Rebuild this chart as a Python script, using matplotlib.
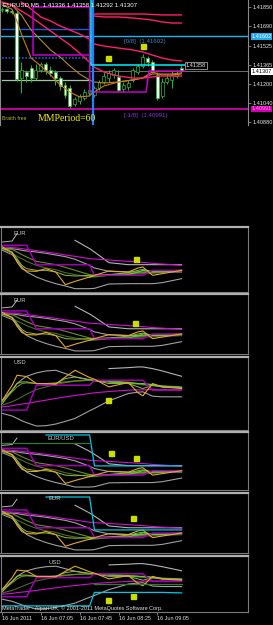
import numpy as np
import matplotlib.pyplot as plt

plt.rcParams['font.family'] = ['Liberation Sans', 'DejaVu Sans']

nan = np.nan
W, H = 273, 625

# ---------------- main window: EURUSD,M5 ----------------
bar_open = [1.41825, 1.41833, 1.41816, 1.41799, 1.41251, 1.41302, 1.41336, 1.41251, 1.41319, 1.41369,
            1.41319, 1.41302, 1.41251, 1.41192, 1.41167, 1.41032, 1.41058, 1.41083, 1.41125, 1.41108,
            1.41167, 1.41218, 1.41251, 1.41277, 1.41260, 1.41159, 1.41176, 1.41235, 1.41302, 1.41353,
            1.41420, 1.41386, 1.41277, 1.41100, 1.41218, 1.41235, 1.41268, 1.41336]
bar_high = [1.41850, 1.41842, 1.41833, 1.41825, 1.41386, 1.41319, 1.41361, 1.41369, 1.41386, 1.41386,
            1.41353, 1.41319, 1.41268, 1.41218, 1.41192, 1.41091, 1.41117, 1.41159, 1.41184, 1.41184,
            1.41235, 1.41302, 1.41319, 1.41336, 1.41319, 1.41218, 1.41235, 1.41336, 1.41369, 1.41454,
            1.41437, 1.41403, 1.41302, 1.41251, 1.41285, 1.41319, 1.41319, 1.41358]
bar_low = [1.41808, 1.41799, 1.41791, 1.41226, 1.41125, 1.41218, 1.41218, 1.41235, 1.41302, 1.41285,
           1.41268, 1.41192, 1.41150, 1.41083, 1.40999, 1.41015, 1.41032, 1.41066, 1.41100, 1.41091,
           1.41150, 1.41201, 1.41218, 1.41251, 1.41133, 1.41133, 1.41150, 1.41218, 1.41285, 1.41336,
           1.41353, 1.41294, 1.41066, 1.41083, 1.41201, 1.41167, 1.41251, 1.41292]
bar_close = [1.41833, 1.41816, 1.41808, 1.41243, 1.41319, 1.41268, 1.41251, 1.41319, 1.41369, 1.41319,
             1.41294, 1.41251, 1.41184, 1.41108, 1.41015, 1.41074, 1.41100, 1.41133, 1.41150, 1.41167,
             1.41218, 1.41268, 1.41294, 1.41319, 1.41150, 1.41192, 1.41209, 1.41319, 1.41353, 1.41428,
             1.41386, 1.41310, 1.41083, 1.41218, 1.41251, 1.41277, 1.41294, 1.41307]

m_nodes = [0, 2, 3, 4, 6, 8, 10, 12, 14, 16, 18, 19, 21, 24, 27, 29, 31, 33, 35, 37]
ma_fast = [1.41867, 1.41833, 1.41740, 1.41622, 1.41420, 1.41353, 1.41277, 1.41192, 1.41133, 1.41091,
           1.41100, 1.41133, 1.41184, 1.41218, 1.41235, 1.41251, 1.41302, 1.41277, 1.41277, 1.41285]
ma_slow = [1.41884, 1.41867, 1.41825, 1.41783, 1.41656, 1.41572, 1.41488, 1.41428, 1.41353, 1.41285,
           1.41235, 1.41218, 1.41209, 1.41218, 1.41235, 1.41251, 1.41285, 1.41285, 1.41285, 1.41294]
env_low = [1.41892, 1.41867, 1.41842, 1.41816, 1.41766, 1.41707, 1.41648, 1.41589, 1.41530, 1.41462,
           1.41386, 1.41344, 1.41302, 1.41268, 1.41251, 1.41251, 1.41260, 1.41268, 1.41268, 1.41268]
env_mid = [nan, nan, nan, 1.41892, 1.41833, 1.41766, 1.41732, 1.41690, 1.41656, 1.41622,
           1.41580, 1.41538, 1.41521, 1.41504, 1.41488, 1.41471, 1.41445, 1.41420, 1.41403, 1.41395]
top_nodes = [19, 21, 24, 27, 29, 31, 33, 35, 37]
env_top1 = [1.41791, 1.41791, 1.41791, 1.41791, 1.41791, 1.41787, 1.41783, 1.41783, 1.41783]
env_top2 = [1.41774, 1.41766, 1.41766, 1.41757, 1.41749, 1.41740, 1.41724, 1.41715, 1.41715]

range_x = [6.4, 6.4, 18.1, 18.1, 29.7, 30.3, 37.7]
range_y = [1.41445, 1.41850, 1.41850, 1.41133, 1.41133, 1.41310, 1.41310]
range_mid = 1.41445
hour_break = 18.5
prev_high = 1.41664
prev_pivot = 1.41420
prev_low = 1.41235
mm_zero = 1.41602
mm_minus1 = 1.40991
last_price = 1.41307
break_level = 1.41358
signal_x = [21.9, 29.1]
signal_y = [1.41420, 1.41521]
price_ticks = [1.41850, 1.41690, 1.41525, 1.41365, 1.41200, 1.41040, 1.40880]

time_ticks = [0, 8, 16, 24, 32]
time_labels = ['16 Jun 2011', '16 Jun 07:05', '16 Jun 07:45', '16 Jun 08:25', '16 Jun 09:05']

# ---------------- currency strength windows ----------------
s_nodes = [0, 2, 3, 4, 5, 7, 9, 11, 13, 15, 18, 19, 22, 26, 28, 29, 31, 33, 37]
eur = {
    'step':   [140, 140, 140, 140, 140, 82, 82, 82, 82, 82, 82, 50, 50, 50, 50, 50, 65, 65, 65],
    'slant':  [135, 133, 132, 130, 128, 124, 120, 116, 111, 107, 100, 99, 96, 92, 90, 89, 86, 84, 80],
    'arc':    [nan, nan, nan, nan, nan, nan, nan, nan, nan, 155, 130, 120, 88, 82, 82, 82, 82, 82, 82],
    'gmid':   [130, 130, 128, 125, 123, 120, 116, 111, 106, 98, 80, 72, 62, 60, 60, 60, 60, 60, 60],
    'glow':   [125, 112, 95, 75, 60, 45, 34, 25, 18, 10, 10, 11, 24, 25, 25, 25, 25, 28, 40],
    'gtop':   [150, 153, 175, nan, nan, nan, nan, nan, nan, nan, nan, nan, nan, nan, nan, nan, nan, nan, nan],
    'olive1': [130, 128, 120, 112, 105, 92, 87, 82, 74, 65, 52, 50, 52, 55, 57, 58, 60, 62, 65],
    'olive2': [128, 115, 107, 100, 92, 80, 72, 67, 58, 52, 45, 45, 50, 52, 54, 55, 56, 58, 60],
    'ygreen': [130, 120, 100, 80, 70, 65, 65, 60, 50, 48, 50, 50, 52, 58, 65, 68, 60, 60, 65],
    'green':  [nan, nan, nan, nan, nan, nan, nan, nan, nan, nan, 45, 48, 50, 52, 60, 65, 62, 62, 65],
    'orange': [135, 118, 90, 70, 63, 62, 70, 60, 22, 32, 45, 50, 63, 60, 72, 75, 50, 55, 65],
}
usd = {
    'step':   [60, 60, 60, 60, 60, 135, 135, 135, 135, 135, 135, 150, 150, 150, 150, 150, 120, 120, 120],
    'slant':  [70, 73, 76, 78, 80, 85, 90, 95, 100, 104, 110, 112, 116, 120, 121, 121, 122, 122, 122],
    'arc':    [nan, nan, nan, nan, nan, nan, nan, nan, nan, nan, nan, nan, 185, 188, 190, 190, 185, 178, 162],
    'gmid':   [90, 120, 140, 152, 162, 172, 178, 180, 170, 160, 150, 148, 145, 140, 140, 138, 135, 130, 128],
    'glow':   [50, 42, 35, 28, 22, 12, 13, 18, 26, 35, 58, 65, 88, 110, 114, 115, 102, 100, 100],
    'gtop':   [nan] * 19,
    'olive1': [85, 115, 130, 140, 142, 140, 140, 142, 145, 148, 150, 150, 148, 144, 140, 138, 135, 133, 130],
    'olive2': [75, 85, 92, 100, 108, 122, 130, 137, 143, 147, 150, 150, 147, 142, 138, 136, 133, 131, 128],
    'ygreen': [80, 120, 140, 145, 145, 140, 138, 140, 155, 160, 152, 150, 140, 140, 130, 125, 135, 130, 128],
    'green':  [nan, nan, nan, nan, nan, nan, nan, nan, nan, nan, nan, nan, 145, 142, 140, 140, 137, 132, 128],
    'orange': [90, 135, 165, 163, 161, 140, 140, 138, 160, 180, 158, 153, 130, 143, 112, 103, 140, 130, 125],
}
eur_range = 195
usd_range = 220

cyan_p4 = [nan, nan, nan, nan, nan, nan, 185, 185, 185, 185, 185, 81, 81, 81, 81, 81, 81, 81, 81]
cyan_p5 = [nan, nan, nan, nan, nan, nan, 182, 182, 182, 182, 182, 75, 75, 75, 75, 75, 75, 75, 75]
cyan_p6 = [24, 24, 24, 24, 24, 24, 24, 24, 24, 24, 24, 77, 77, 77, 77, 77, 77, 77, 75]
dgreen_p4 = [159, 159, 159, 159, 159, 159, 159, 159, 159, 159, 159, nan, nan, nan, nan, nan, nan, nan, nan]
dgreen_p6 = [nan, nan, nan, nan, nan, nan, nan, nan, nan, nan, nan, 110, 110, 110, 110, 110, 110, 110, 110]

panel_names = ['EUR', 'EUR', 'USD', 'EUR/USD', 'EUR', 'USD']
panel_sets = [eur, eur, usd, eur, eur, usd]
panel_ranges = [eur_range, eur_range, usd_range, eur_range, eur_range, usd_range]
signal_panel = [0, 1, 2, 3, 3, 4, 5, 5]
signal_pos = [27.6, 27.4, 21.9, 22.5, 27.6, 27.0, 21.9, 27.0]
signal_val = [99, 101, 90, 124, 108, 114, 47, 63]

# layout in pixels (top, bottom)
panel_px = [(227, 292), (294, 354), (357, 430), (432, 490), (493, 553), (556, 612)]
label_px = [13, 13, 13, 47, 48, 48]
XLIM = (-0.41, 50.72)


def box(x0, y0, x1, y1):
    return [x0 / W, 1 - y1 / H, (x1 - x0) / W, (y1 - y0) / H]


fig = plt.figure(figsize=(W / 100, H / 100), dpi=100, facecolor='black')

# ---- main chart ----
ax = fig.add_axes(box(0, 0, 248, 125))
ax.set_facecolor('black')
ax.set_xlim(XLIM)
ax.set_ylim(1.40855, 1.41909)
for s in ['top', 'bottom']:
    ax.spines[s].set_visible(False)
for s in ['left', 'right']:
    ax.spines[s].set_color('#8a8a8a')
    ax.spines[s].set_linewidth(0.8)
ax.set_xticks([])
ax.yaxis.tick_right()
ax.set_yticks(price_ticks)
ax.set_yticklabels([f'{p:.5f}' for p in price_ticks])
ax.tick_params(axis='y', colors='#8a8a8a', labelcolor='#e8e8e8', labelsize=4.0, length=2, width=0.6, pad=1.2)

sess = [0, hour_break - 0.4]
ax.plot(sess, [prev_high] * 2, color='#1e5ad2', lw=1.0, zorder=1)
ax.plot(sess, [prev_pivot] * 2, color='#1e5ad2', lw=1.2, ls=(0, (1, 1)), zorder=1)
ax.plot(sess, [prev_low] * 2, color='#a0c8a0', lw=0.9, zorder=1)
ax.axhline(mm_zero, color='#1eb4f0', lw=1.0, zorder=1)
ax.axhline(last_price, color='#707070', lw=0.7, zorder=1)
ax.axhline(mm_minus1, color='#e000b4', lw=1.2, zorder=1)

x = np.arange(len(bar_close))
o = np.array(bar_open)
c = np.array(bar_close)
ax.vlines(x, bar_low, bar_high, color='#22c022', lw=0.7, zorder=2)
body_fc = np.where(c < o, 'white', 'black')
ax.bar(x, np.abs(c - o), bottom=np.minimum(o, c), width=0.6, color=body_fc,
       edgecolor='#22c022', linewidth=0.5, zorder=2)

ax.plot(m_nodes, ma_slow, color='#b8862b', lw=0.8, zorder=3)
ax.plot(m_nodes, ma_fast, color='#d2781e', lw=0.8, zorder=3)
ax.plot(m_nodes, env_low, color='#ff1e6e', lw=1.0, zorder=3)
ax.plot(m_nodes, env_mid, color='#ff1e6e', lw=1.0, zorder=3)
ax.plot(top_nodes, env_top1, color='#ff1e6e', lw=1.0, zorder=3)
ax.plot(top_nodes, env_top2, color='#ff1e6e', lw=1.0, zorder=3)
ax.plot(range_x, range_y, color='#c800c8', lw=1.1, zorder=3)
ax.plot([range_x[0] + 0.2, range_x[2]], [range_mid] * 2, color='#c800c8', lw=1.1, zorder=3)
ax.axvline(hour_break + 0.2, color='#2080ff', lw=1.6, zorder=4)
ax.plot([hour_break - 0.2, hour_break - 0.2, 37.7], [1.41909, break_level, break_level],
        color='#00f0ff', lw=1.1, zorder=4)
ax.plot(signal_x, signal_y, ls='none', marker='s', ms=3.6, color='#ccdd00', zorder=5)

ax.text(0.012, 0.962, 'EURUSD,M5  1.41336 1.41358 1.41292 1.41307', transform=ax.transAxes,
        color='white', fontsize=4.4, va='center', ha='left', zorder=6)
ax.text(25.2, 1.41563, '[0/8]  (1.41602)', color='#3c82c8', fontsize=4.4, va='center', zorder=6)
ax.text(25.2, 1.40935, '[-1/8]  (1.40991)', color='#8c32dc', fontsize=4.4, va='center', zorder=6)
ax.text(0.153, 0.05, 'MMPeriod=60', transform=ax.transAxes, color='#f0f000', fontsize=7,
        va='center', ha='left', family='Liberation Serif', zorder=6)
ax.text(0.008, 0.05, 'Braith free', transform=ax.transAxes, color='#b4b428', fontsize=3.8,
        va='center', ha='left', zorder=6)
ax.text(37.9, break_level, '1.41358', color='#e8e8e8', fontsize=4.0, va='center', ha='left',
        bbox=dict(boxstyle='square,pad=0.15', fc='black', ec='#a0a0a0', lw=0.6), zorder=6)
ytr = ax.get_yaxis_transform()
for val, fc, tc in [(mm_zero, '#1eaaf0', 'white'), (last_price, 'white', 'black'),
                    (mm_minus1, '#d200b4', '#ff80e0')]:
    ax.text(1.014, val, f'{val:.5f}', transform=ytr, color=tc, fontsize=4.0, va='center', ha='left',
            bbox=dict(boxstyle='square,pad=0.12', fc=fc, ec='none'), clip_on=False)

# ---- currency strength panels ----
styles = [('gtop', '#b4b4b4', 0.7), ('arc', '#b4b4b4', 0.8), ('gmid', '#a0a0a0', 0.8),
          ('glow', '#a0a0a0', 0.8), ('olive2', '#4a6a28', 0.8), ('olive1', '#6b8e23', 0.8),
          ('ygreen', '#8cbe32', 0.7), ('green', '#50d232', 0.8), ('slant', '#d010d0', 0.8),
          ('step', '#a000b4', 1.1), ('orange', '#e6a532', 0.8)]
extras = {3: [(cyan_p4, '#00c8e6'), (dgreen_p4, '#2e7a2e')],
          4: [(cyan_p5, '#00c8e6')],
          5: [(cyan_p6, '#00c8e6'), (dgreen_p6, '#2e7a2e')]}

axes = []
for k, (top, bot) in enumerate(panel_px):
    a = fig.add_axes(box(0.5, top, 248, bot))
    a.set_facecolor('black')
    a.set_xlim(XLIM)
    a.set_ylim(0, panel_ranges[k])
    for s in ['left', 'right', 'bottom']:
        a.spines[s].set_color('#7a7a7a')
        a.spines[s].set_linewidth(0.8)
    a.spines['top'].set_color('#b0b0b0')
    a.spines['top'].set_linewidth(1.6)
    a.set_xticks([])
    a.set_yticks([])
    data = panel_sets[k]
    for key, col, lw in styles:
        a.plot(s_nodes, data[key], color=col, lw=lw)
    for vals, col in extras.get(k, []):
        a.plot(s_nodes, vals, color=col, lw=0.9)
    a.text(label_px[k] / 248, 1 - 6 / (bot - top), panel_names[k], transform=a.transAxes,
           color='#c8c8c8', fontsize=4.2, va='center', ha='left')
    axes.append(a)

for p, sx, sv in zip(signal_panel, signal_pos, signal_val):
    axes[p].plot(sx, sv, ls='none', marker='s', ms=3.6, color='#ccdd00', zorder=5)

last = axes[-1]
last.set_xticks(time_ticks)
last.set_xticklabels(time_labels)
last.tick_params(axis='x', colors='#8a8a8a', labelcolor='#e0e0e0', labelsize=4.0, length=2, width=0.6, pad=1.0)
for lbl in last.get_xticklabels():
    lbl.set_ha('left')
last.text(0.008, 0.06, 'MetaTrader - Alpari UK, \u00a9 2001-2011 MetaQuotes Software Corp.',
          transform=last.transAxes, color='#e0e0e0', fontsize=4.0, va='center', ha='left')

fig.savefig('out.png', dpi=100, facecolor='black')
